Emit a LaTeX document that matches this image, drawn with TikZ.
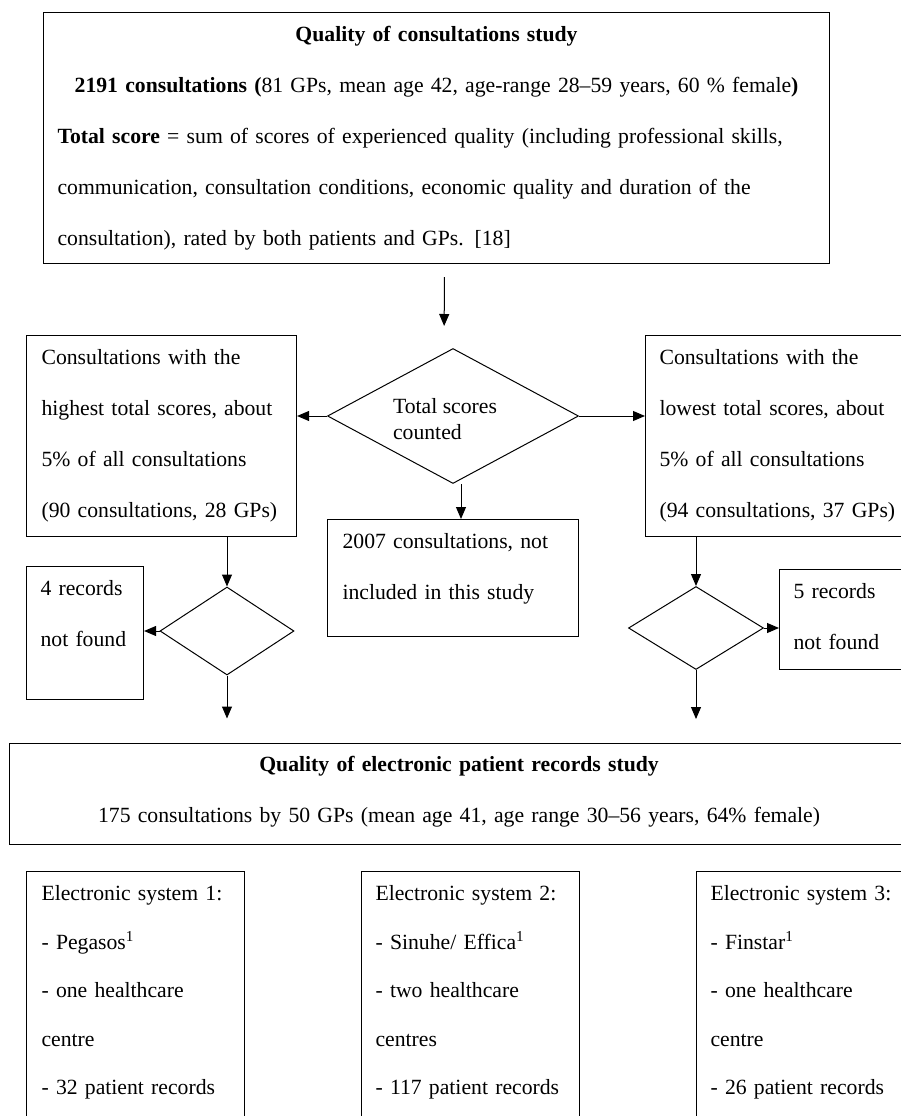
\documentclass[tikz,border=0pt]{standalone}
\usepackage{fontspec}
\setmainfont{Liberation Serif}
\usetikzlibrary{positioning,shapes.geometric,arrows.meta,calc}

\begin{document}
\begin{tikzpicture}[
		x=1pt, y=-1pt,
		> = {Triangle[length=12pt,width=10pt]},
		every node/.style={font=\fontsize{21.7}{51}\selectfont},
		box/.style={draw, line width=1.1pt, anchor=north west, align=left,
			inner xsep=15pt, inner ysep=0pt, text height=29pt},
		sysbox/.style={box, inner xsep=14pt, text width=190pt, text depth=231pt,
			font=\fontsize{21.7}{48.5}\selectfont},
		check/.style={draw, diamond, line width=1pt, inner sep=0pt, aspect=2},
		flow/.style={->, line width=1pt}
		]
		\useasboundingbox (0,0) rectangle (901,1116);

		% first study
		\node[box, inner xsep=14pt, text width=758pt, text depth=222pt] (study) at (43,12)
			{\makebox[\linewidth]{\textbf{Quality of consultations study}}\\
			\makebox[\linewidth]{\textbf{2191 consultations (}81 GPs, mean age 42, age-range 28–59 years, 60 \% female\textbf{)}}\\
			\textbf{Total score} = sum of scores of experienced quality (including professional skills,\\
			communication, consultation conditions, economic quality and duration of the\\
			consultation), rated by both patients and GPs. [18]};

		% selection by total score
		\node[check, minimum width=251pt, minimum height=135pt, align=left,
			font=\fontsize{21.7}{26}\selectfont] (count) at (453,416) {\rule{0pt}{22pt}Total scores\hspace*{16pt}\\counted};
		\node[box, text width=240pt, text depth=172pt] (hi) at (26,335)
			{Consultations with the\\ highest total scores, about\\ 5\% of all consultations\\ (90 consultations, 28 GPs)};
		\node[box, inner xsep=14pt, text width=242pt, text depth=172pt] (lo) at (645,335)
			{Consultations with the\\ lowest total scores, about\\ 5\% of all consultations\\ (94 consultations, 37 GPs)};
		\node[box, text width=221pt, text depth=88pt] (ex) at (327,519)
			{2007 consultations, not\\ included in this study};

		% records found or not
		\node[check, minimum width=134pt, minimum height=88pt] (hichk) at (227,631) {};
		\node[check, minimum width=135pt, minimum height=83pt] (lochk) at (696,628) {};
		\node[box, inner xsep=14pt, text width=89pt, text depth=104pt] (nf1) at (26,566) {4 records\\ not found};
		\node[box, inner xsep=14pt, text width=103pt, text depth=71pt] (nf2) at (779,569) {5 records\\ not found};
		\coordinate[below=43pt of hichk.south] (hiout);
		\coordinate[below=49pt of lochk.south] (loout);

		% second study
		\node[box, align=center, text width=869pt, text height=28pt, text depth=73pt] (ep) at (9,743)
			{\textbf{Quality of electronic patient records study}\\
			175 consultations by 50 GPs (mean age 41, age range 30–56 years, 64\% female)};
		\node[sysbox, inner xsep=15pt, text width=188pt] (sys1) at (26,871)
			{Electronic system 1:\\ - Pegasos\textsuperscript{1}\\ - one healthcare\\ centre\\ - 32 patient records};
		\node[sysbox] (sys2) at (361,871)
			{Electronic system 2:\\ - Sinuhe/ Effica\textsuperscript{1}\\ - two healthcare\\ centres\\ - 117 patient records};
		\node[sysbox] (sys3) at (696,871)
			{Electronic system 3:\\ - Finstar\textsuperscript{1}\\ - one healthcare\\ centre\\ - 26 patient records};

		% Draw the flow arrows
		\draw[flow, shorten <=13pt, shorten >=22pt] ([xshift=8pt]study.south) -- ([xshift=-9pt]count.north);
		\draw[flow] (count.west) -- (count.west -| hi.east);
		\draw[flow] (count.east) -- (count.east -| lo.west);
		\draw[flow] ([xshift=8pt]count.south) -- ([xshift=8pt]count.south |- ex.north);
		\draw[flow] (hi.south -| hichk.north) -- (hichk.north);
		\draw[flow] (hichk.west) -- (hichk.west -| nf1.east);
		\draw[flow] (hichk.south) -- (hiout);
		\draw[flow] (lo.south -| lochk.north) -- (lochk.north);
		\draw[flow] (lochk.east) -- (lochk.east -| nf2.west);
		\draw[flow] (lochk.south) -- (loout);
	\end{tikzpicture}
\end{document}
